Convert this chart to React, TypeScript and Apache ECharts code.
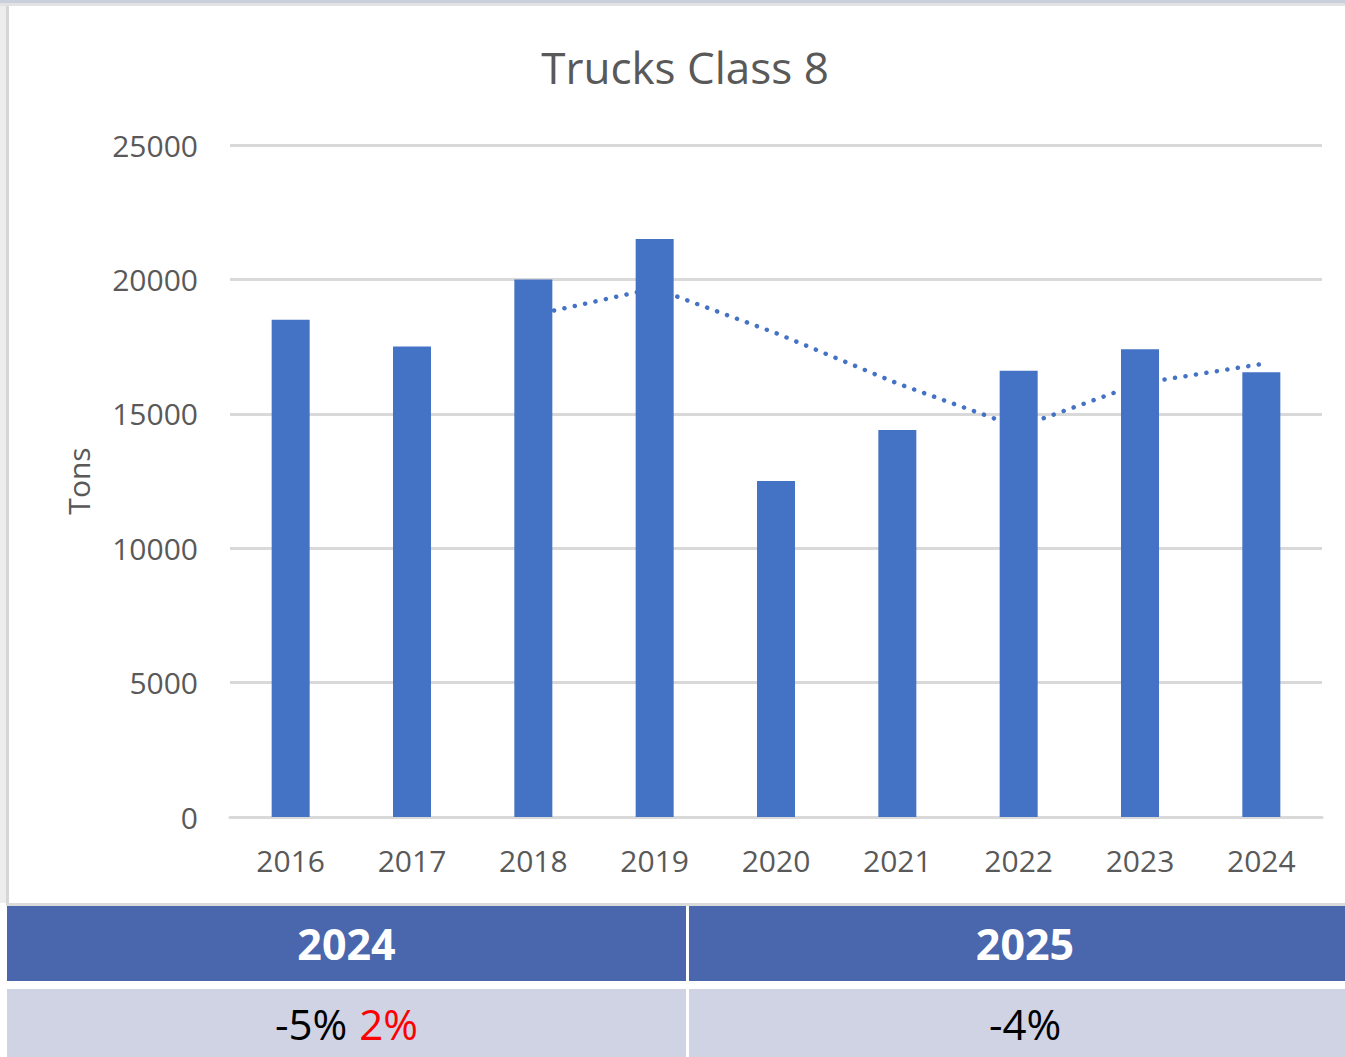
import React, { useEffect, useRef } from "react";
import * as echarts from "echarts";

const categories = ["2016", "2017", "2018", "2019", "2020", "2021", "2022", "2023", "2024"];
const tons = [18500, 17500, 20000, 21500, 12500, 14400, 16600, 17400, 16550];
// 3-period moving-average trendline
const trend: (number | null)[] = [null, null, 18670, 19670, 18000, 16130, 14500, 16130, 16850];
const yTicks = [0, 5000, 10000, 15000, 20000, 25000];
const tableHeaders = ["2024", "2025"];

const FONT = "'Open Sans', 'Noto Sans', sans-serif";

function Chart() {
  const ref = useRef<HTMLDivElement>(null);
  useEffect(() => {
    if (!ref.current) return;
    const chart = echarts.init(ref.current, null, { renderer: "svg" });
    chart.setOption({
      animation: false,
      backgroundColor: "#ffffff",
      graphic: [
        {
          type: "text",
          x: 676,
          y: 61,
          style: {
            text: "Trucks Class 8",
            font: `44px ${FONT}`,
            fill: "#595959",
            textAlign: "center",
            textVerticalAlign: "middle",
          },
        },
      ],
      grid: { left: 221, right: 23, top: 139, bottom: 86 },
      xAxis: {
        type: "category",
        data: categories,
        axisTick: { show: false },
        axisLine: { lineStyle: { color: "#d9d9d9", width: 3 } },
        axisLabel: { color: "#595959", fontSize: 30, fontFamily: FONT, margin: 28 },
      },
      yAxis: {
        type: "value",
        min: yTicks[0],
        max: yTicks[yTicks.length - 1],
        interval: yTicks[1] - yTicks[0],
        name: "Tons",
        nameLocation: "middle",
        nameGap: 137,
        nameTextStyle: { color: "#595959", fontSize: 30, fontFamily: FONT },
        axisLine: { show: false },
        axisTick: { show: false },
        splitLine: { lineStyle: { color: "#d9d9d9", width: 3 } },
        axisLabel: {
          color: "#595959",
          fontSize: 30,
          fontFamily: FONT,
          margin: 32,
          formatter: (v: number) => String(v),
        },
      },
      series: [
        {
          type: "line",
          data: trend,
          z: 1,
          symbol: "none",
          silent: true,
          lineStyle: { color: "#4472c4", width: 4.5, type: [0.1, 10.5], cap: "round" },
        },
        {
          type: "bar",
          data: tons,
          z: 3,
          barWidth: 38,
          itemStyle: { color: "#4472c4" },
        },
      ],
    });
    return () => chart.dispose();
  }, []);
  return <div ref={ref} style={{ position: "absolute", left: 9, top: 6, width: 1336, height: 897 }} />;
}

export default function App() {
  const cellText: React.CSSProperties = {
    position: "absolute",
    display: "flex",
    alignItems: "center",
    justifyContent: "center",
    fontFamily: FONT,
  };
  return (
    <div
      style={{
        position: "fixed",
        left: 0,
        top: 0,
        width: 1345,
        height: 1057,
        background: "#ffffff",
        overflow: "hidden",
      }}
    >
      <div style={{ position: "absolute", left: 0, top: 0, width: 1345, height: 3, background: "#c9cfdd" }} />
      <div style={{ position: "absolute", left: 0, top: 3, width: 1345, height: 3, background: "#e2e2e2" }} />
      <div style={{ position: "absolute", left: 0, top: 6, width: 6, height: 897, background: "#ededed" }} />
      <div style={{ position: "absolute", left: 6, top: 6, width: 3, height: 897, background: "#d6d6d6" }} />
      <Chart />
      <div style={{ position: "absolute", left: 6, top: 903, width: 1339, height: 3, background: "#dadada" }} />
      {/* header row */}
      <div style={{ ...cellText, left: 7, top: 906, width: 679, height: 75, background: "#4a67ae", color: "#ffffff", fontWeight: 700, fontSize: 43 }}>
        {tableHeaders[0]}
      </div>
      <div style={{ ...cellText, left: 689, top: 906, width: 672, height: 75, background: "#4a67ae", color: "#ffffff", fontWeight: 700, fontSize: 43 }}>
        {tableHeaders[1]}
      </div>
      {/* value row */}
      <div style={{ ...cellText, left: 7, top: 989, width: 679, height: 68, background: "#cfd3e4", color: "#000000", fontSize: 42 }}>
        <span>-5%</span>
        <span style={{ color: "#ff0000", marginLeft: 12 }}>2%</span>
      </div>
      <div style={{ ...cellText, left: 689, top: 989, width: 672, height: 68, background: "#cfd3e4", color: "#000000", fontSize: 42 }}>
        -4%
      </div>
    </div>
  );
}
